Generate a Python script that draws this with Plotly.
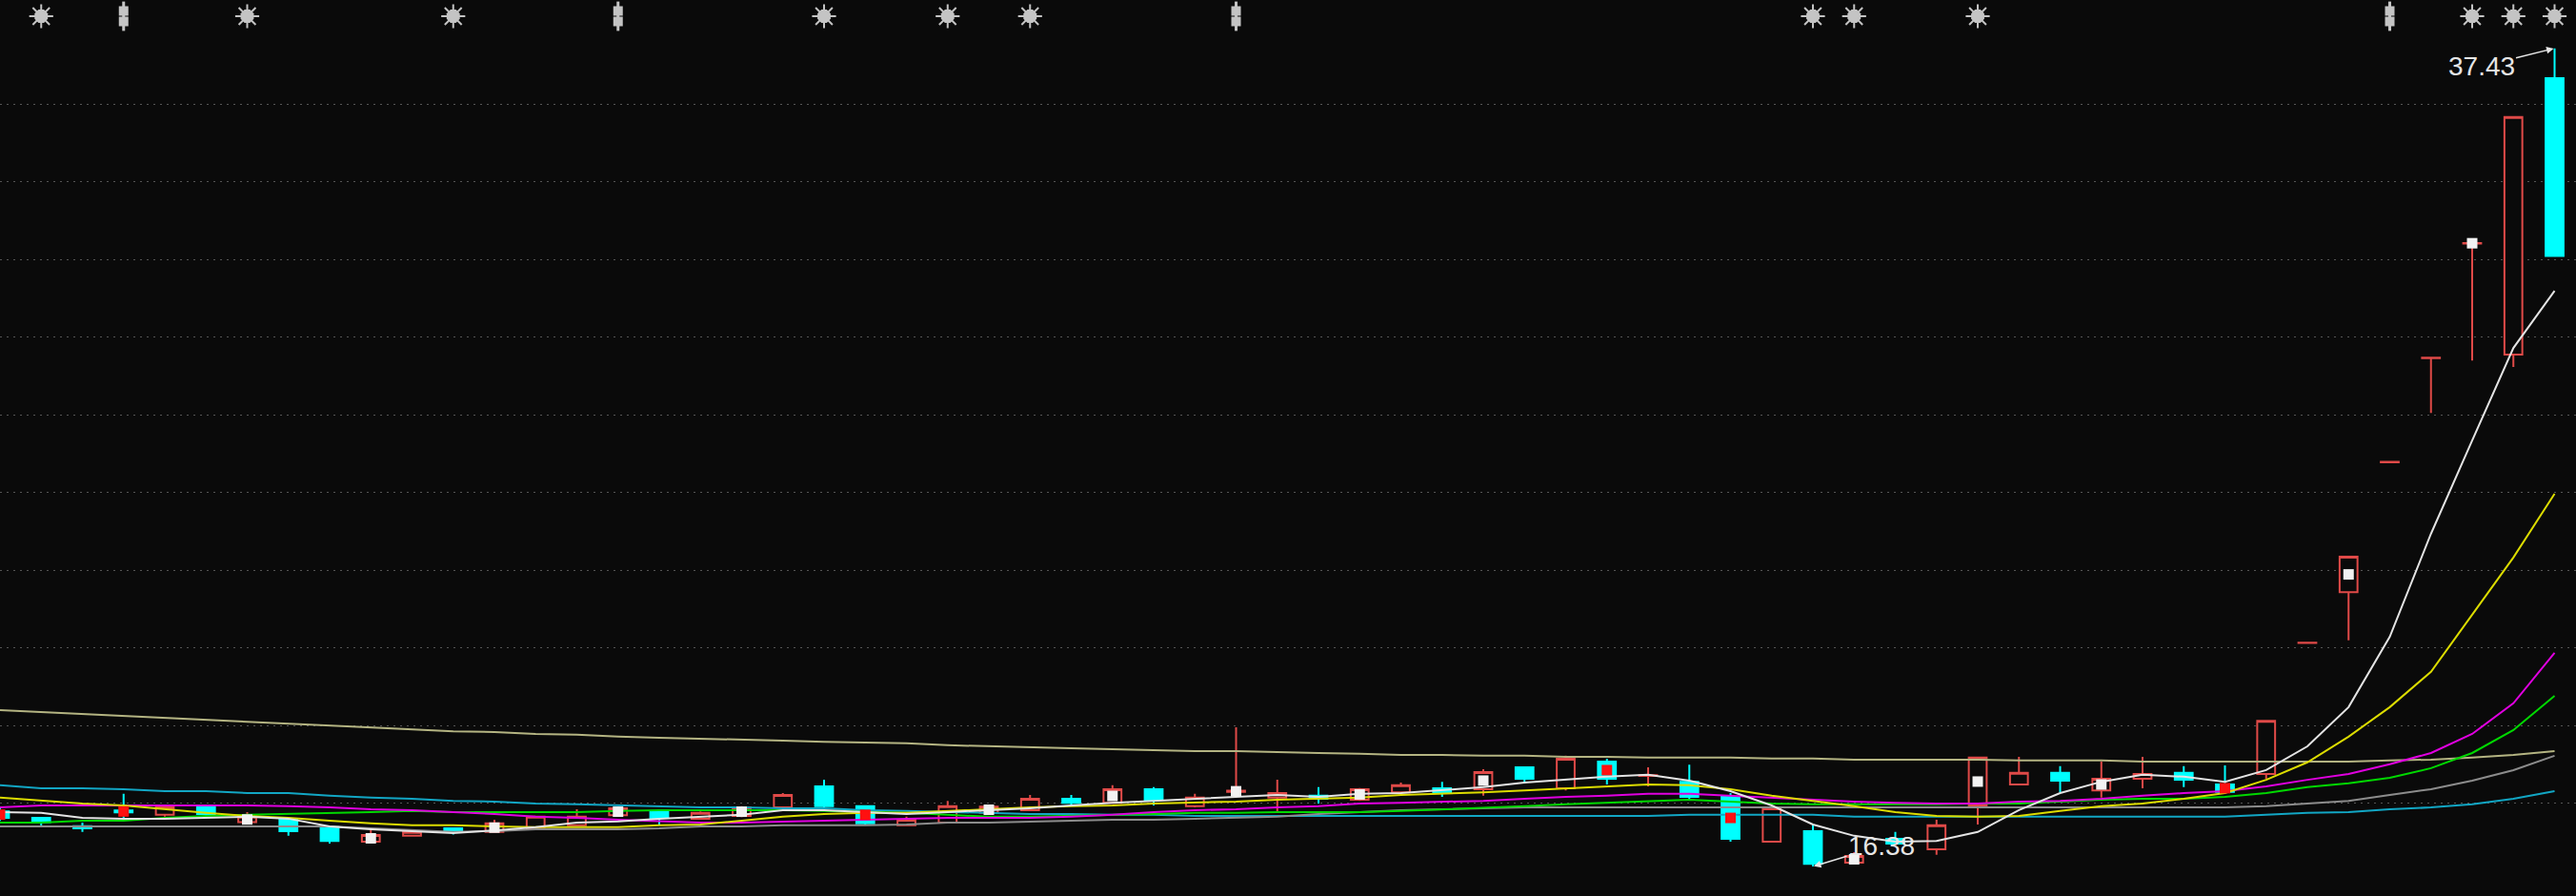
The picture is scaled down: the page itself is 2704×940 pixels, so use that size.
import plotly.graph_objects as go

# ---------------- data ----------------
idx = list(range(63))

opens = [17.80, 17.63, 17.42, 17.82, 17.71, 17.90, 17.52, 17.61, 17.39, 17.02,
         17.17, 17.36, 17.27, 17.36, 17.44, 17.70, 17.78, 17.61, 17.68, 17.90,
         18.44, 17.93, 17.44, 17.51, 17.76, 17.83, 18.12, 18.02, 18.37, 17.93,
         18.30, 18.15, 18.20, 18.10, 18.29, 18.39, 18.37, 18.93, 18.39, 19.08,
         18.71, 18.56, 18.17, 17.02, 17.29, 16.48, 17.09, 16.82, 17.95, 18.49,
         18.79, 18.34, 18.64, 18.79, 18.49, 18.76, 22.13, 23.44, 26.78, 29.46,
         32.41, 29.55, 36.66]
highs = [17.90, 17.65, 17.51, 18.25, 17.93, 17.92, 17.78, 17.63, 17.39, 17.36,
         17.34, 17.38, 17.58, 17.68, 17.85, 17.92, 17.80, 17.80, 17.93, 18.27,
         18.61, 17.95, 17.66, 18.07, 17.95, 18.22, 18.22, 18.47, 18.42, 18.25,
         19.96, 18.61, 18.42, 18.40, 18.54, 18.56, 18.88, 18.95, 19.23, 19.15,
         18.93, 19.00, 18.27, 17.90, 17.46, 16.75, 17.27, 17.58, 19.20, 19.20,
         18.96, 19.08, 19.20, 18.96, 18.98, 20.13, 22.14, 24.35, 26.79, 29.47,
         32.42, 35.66, 37.43]
lows = [17.55, 17.41, 17.27, 17.61, 17.66, 17.70, 17.50, 17.17, 16.97, 17.00,
        17.15, 17.20, 17.25, 17.34, 17.42, 17.66, 17.46, 17.58, 17.65, 17.88,
        17.90, 17.46, 17.42, 17.49, 17.73, 17.81, 17.93, 18.00, 17.95, 17.90,
        18.20, 17.76, 18.00, 18.07, 18.27, 18.17, 18.20, 18.52, 18.34, 18.49,
        18.44, 18.12, 17.02, 17.00, 16.38, 16.45, 16.95, 16.68, 17.46, 18.47,
        18.29, 18.15, 18.39, 18.42, 18.25, 18.64, 22.13, 22.20, 26.78, 28.05,
        29.40, 29.23, 32.09]
closes = [17.63, 17.52, 17.36, 17.77, 17.90, 17.73, 17.66, 17.29, 17.04, 17.19,
          17.27, 17.29, 17.49, 17.66, 17.66, 17.88, 17.63, 17.76, 17.90, 18.22,
          17.93, 17.49, 17.58, 17.93, 17.92, 18.12, 18.02, 18.37, 18.10, 18.15,
          18.33, 18.27, 18.12, 18.37, 18.47, 18.27, 18.81, 18.64, 19.15, 18.64,
          18.73, 18.17, 17.09, 17.88, 16.45, 16.65, 16.97, 17.44, 19.18, 18.79,
          18.59, 18.64, 18.76, 18.61, 18.30, 20.13, 22.14, 24.35, 26.79, 29.47,
          32.42, 35.66, 32.09]

ma5 = [17.78, 17.76, 17.63, 17.61, 17.61, 17.63, 17.66, 17.61, 17.41, 17.34,
       17.29, 17.24, 17.31, 17.39, 17.51, 17.54, 17.61, 17.66, 17.71, 17.83,
       17.83, 17.78, 17.73, 17.78, 17.83, 17.88, 17.95, 18.02, 18.07, 18.12,
       18.17, 18.22, 18.17, 18.25, 18.27, 18.34, 18.42, 18.54, 18.61, 18.69,
       18.74, 18.59, 18.32, 17.95, 17.46, 17.17, 17.02, 17.04, 17.27, 17.83,
       18.27, 18.56, 18.74, 18.69, 18.56, 18.86, 19.47, 20.48, 22.29, 24.94,
       27.34, 29.72, 31.19]
ma10 = [18.15, 18.07, 18.00, 17.95, 17.85, 17.76, 17.68, 17.63, 17.56, 17.49,
        17.44, 17.44, 17.41, 17.39, 17.39, 17.39, 17.44, 17.46, 17.56, 17.66,
        17.73, 17.76, 17.76, 17.81, 17.85, 17.90, 17.93, 17.95, 18.00, 18.02,
        18.05, 18.10, 18.12, 18.15, 18.22, 18.25, 18.29, 18.34, 18.39, 18.44,
        18.49, 18.47, 18.37, 18.20, 18.07, 17.93, 17.78, 17.68, 17.66, 17.68,
        17.81, 17.93, 18.00, 18.12, 18.27, 18.61, 19.06, 19.72, 20.48, 21.39,
        22.86, 24.33, 25.97]
ma20 = [17.90, 17.95, 17.95, 17.95, 17.95, 17.95, 17.95, 17.93, 17.90, 17.85,
        17.83, 17.78, 17.73, 17.66, 17.63, 17.58, 17.54, 17.51, 17.51, 17.54,
        17.56, 17.58, 17.61, 17.63, 17.63, 17.63, 17.66, 17.71, 17.78, 17.83,
        17.85, 17.90, 17.93, 18.00, 18.02, 18.05, 18.07, 18.12, 18.17, 18.20,
        18.25, 18.25, 18.20, 18.15, 18.10, 18.05, 18.02, 18.00, 18.00, 18.05,
        18.07, 18.12, 18.20, 18.27, 18.32, 18.44, 18.61, 18.76, 19.01, 19.30,
        19.79, 20.58, 21.88]
ma30 = [17.51, 17.51, 17.56, 17.56, 17.63, 17.68, 17.71, 17.73, 17.76, 17.78,
        17.81, 17.78, 17.78, 17.78, 17.78, 17.81, 17.83, 17.83, 17.83, 17.83,
        17.81, 17.78, 17.76, 17.71, 17.66, 17.66, 17.68, 17.71, 17.73, 17.76,
        17.76, 17.78, 17.78, 17.78, 17.81, 17.85, 17.88, 17.93, 17.98, 18.02,
        18.07, 18.10, 18.05, 18.00, 17.98, 17.98, 17.98, 17.98, 18.00, 18.00,
        18.05, 18.10, 18.12, 18.12, 18.17, 18.27, 18.42, 18.52, 18.66, 18.91,
        19.30, 19.89, 20.77]
ma60 = [17.41, 17.41, 17.41, 17.41, 17.41, 17.41, 17.41, 17.41, 17.41, 17.36,
        17.31, 17.27, 17.29, 17.34, 17.34, 17.34, 17.36, 17.41, 17.41, 17.44,
        17.44, 17.44, 17.46, 17.51, 17.51, 17.54, 17.56, 17.58, 17.58, 17.61,
        17.63, 17.66, 17.73, 17.78, 17.83, 17.85, 17.88, 17.90, 17.90, 17.90,
        17.90, 17.90, 17.90, 17.90, 17.90, 17.90, 17.90, 17.90, 17.90, 17.90,
        17.90, 17.90, 17.90, 17.90, 17.90, 17.93, 18.00, 18.07, 18.22, 18.37,
        18.59, 18.86, 19.23]
ma120 = [18.47, 18.39, 18.39, 18.37, 18.32, 18.32, 18.27, 18.27, 18.20, 18.15,
         18.12, 18.07, 18.05, 18.00, 17.98, 17.95, 17.93, 17.90, 17.90, 17.88,
         17.88, 17.83, 17.81, 17.78, 17.76, 17.73, 17.73, 17.71, 17.71, 17.68,
         17.68, 17.68, 17.68, 17.68, 17.68, 17.68, 17.68, 17.68, 17.68, 17.68,
         17.68, 17.71, 17.71, 17.71, 17.71, 17.66, 17.66, 17.66, 17.66, 17.66,
         17.66, 17.66, 17.66, 17.66, 17.66, 17.71, 17.76, 17.78, 17.85, 17.90,
         17.98, 18.12, 18.32]
ma250 = [20.40, 20.35, 20.31, 20.26, 20.21, 20.16, 20.11, 20.06, 20.01, 19.96,
         19.91, 19.86, 19.84, 19.79, 19.77, 19.72, 19.69, 19.67, 19.64, 19.62,
         19.59, 19.57, 19.55, 19.50, 19.47, 19.45, 19.42, 19.40, 19.37, 19.35,
         19.35, 19.32, 19.30, 19.28, 19.25, 19.25, 19.23, 19.23, 19.20, 19.20,
         19.18, 19.18, 19.18, 19.16, 19.16, 19.13, 19.13, 19.13, 19.13, 19.11,
         19.11, 19.11, 19.08, 19.08, 19.08, 19.08, 19.08, 19.08, 19.11, 19.13,
         19.18, 19.25, 19.35]

# horizontal grid levels
grid_levels = [18, 20, 22, 24, 26, 28, 30, 32, 34, 36]

# signal squares drawn inside every third candle
signal_idx = [0, 3, 6, 9, 12, 15, 18, 21, 24, 27, 30, 33, 36, 39, 42, 45,
              48, 51, 54, 57, 60]
# icons on the top row
star_idx = [1, 6, 11, 20, 23, 25, 44, 45, 48, 60, 61, 62]
dagger_idx = [3, 15, 30, 58]

high_label = "37.43"
low_label = "16.38"

# ---------------- style ----------------
BG = "#0a0a0a"
UP = "#e04a48"
DOWN = "#00ffff"
ICON = "#c4c4c4"
FONT = "Liberation Sans, Arial, sans-serif"

fig = go.Figure()

fig.add_trace(go.Candlestick(
    x=idx, open=opens, high=highs, low=lows, close=closes,
    increasing=dict(line=dict(color=UP, width=2), fillcolor=BG),
    decreasing=dict(line=dict(color=DOWN, width=2), fillcolor=DOWN),
    whiskerwidth=0, hoverinfo="skip", showlegend=False,
))

lines = [
    (ma250, "#b4b482"),
    (ma120, "#12a6c4"),
    (ma60, "#8c8c8c"),
    (ma30, "#00d800"),
    (ma20, "#e000e0"),
    (ma10, "#dcdc00"),
    (ma5, "#e4e4e4"),
]
for vals, col in lines:
    fig.add_trace(go.Scatter(x=idx, y=vals, mode="lines",
                             line=dict(color=col, width=2),
                             hoverinfo="skip", showlegend=False))

sig_x, sig_y, sig_c = [], [], []
for i in signal_idx:
    sig_x.append(i)
    sig_y.append((opens[i] + closes[i]) / 2)
    sig_c.append("#f2f2f2" if closes[i] >= opens[i] else "#ff1010")
fig.add_trace(go.Scatter(x=sig_x, y=sig_y, mode="markers",
                         marker=dict(symbol="square", size=11, color=sig_c,
                                     line=dict(width=0)),
                         hoverinfo="skip", showlegend=False))

# top icons, placed on an overlay axis that spans the plot height (0..1)
PX = 1.0 / 940
ICON_Y = 1 - 17 * PX
fig.add_trace(go.Scatter(x=star_idx, y=[ICON_Y] * len(star_idx), yaxis="y2",
                         mode="markers",
                         marker=dict(symbol="octagon", size=15, color=ICON,
                                     line=dict(width=0)),
                         hoverinfo="skip", showlegend=False))
fig.add_trace(go.Scatter(x=star_idx, y=[ICON_Y] * len(star_idx), yaxis="y2",
                         mode="markers",
                         marker=dict(symbol="asterisk-open", size=21, color=ICON,
                                     line=dict(color=ICON, width=2)),
                         hoverinfo="skip", showlegend=False))
for dy in (-5.5, 5.5):
    fig.add_trace(go.Scatter(x=dagger_idx, y=[ICON_Y + dy * PX] * len(dagger_idx),
                             yaxis="y2", mode="markers",
                             marker=dict(symbol="square", size=10, color=ICON,
                                         line=dict(width=0)),
                             hoverinfo="skip", showlegend=False))
fig.add_trace(go.Scatter(x=dagger_idx, y=[ICON_Y] * len(dagger_idx), yaxis="y2",
                         mode="markers",
                         marker=dict(symbol="line-ns", size=22, color=ICON,
                                     line=dict(color=ICON, width=3)),
                         hoverinfo="skip", showlegend=False))

hi_i = highs.index(max(highs))
lo_i = lows.index(min(lows))
fig.add_annotation(x=hi_i, y=highs[hi_i], text=high_label, showarrow=True,
                   ax=-77, ay=19, arrowhead=2, arrowsize=1, arrowwidth=1.5,
                   arrowcolor="#e6e6e6", standoff=1,
                   font=dict(family=FONT, size=28, color="#e6e6e6"))
fig.add_annotation(x=lo_i, y=lows[lo_i], text=low_label, showarrow=True,
                   ax=72, ay=-22, arrowhead=2, arrowsize=1, arrowwidth=1.5,
                   arrowcolor="#e6e6e6", standoff=1,
                   font=dict(family=FONT, size=28, color="#e6e6e6"))

fig.update_layout(
    width=2704, height=940,
    margin=dict(l=0, r=0, t=0, b=0),
    paper_bgcolor=BG, plot_bgcolor=BG,
    boxgap=0.38,
    showlegend=False,
    xaxis=dict(range=[0, 62.52], showgrid=False, zeroline=False,
               showticklabels=False, showline=False, ticks="",
               rangeslider=dict(visible=False), fixedrange=True),
    yaxis=dict(range=[15.621, 38.673], tickmode="array", tickvals=grid_levels,
               showgrid=True, gridcolor="#555555", gridwidth=1,
               griddash="2px,5px",
               zeroline=False, showticklabels=False, showline=False,
               ticks="", fixedrange=True),
    yaxis2=dict(range=[0, 1], overlaying="y", showgrid=False,
                zeroline=False, showticklabels=False, visible=False,
                fixedrange=True),
)

fig.write_html(
    "out.html",
    config={"displayModeBar": False, "staticPlot": True},
    post_script="document.body.style.margin='0';"
                "document.body.style.background='#0a0a0a';"
                "document.documentElement.style.background='#0a0a0a';",
)
